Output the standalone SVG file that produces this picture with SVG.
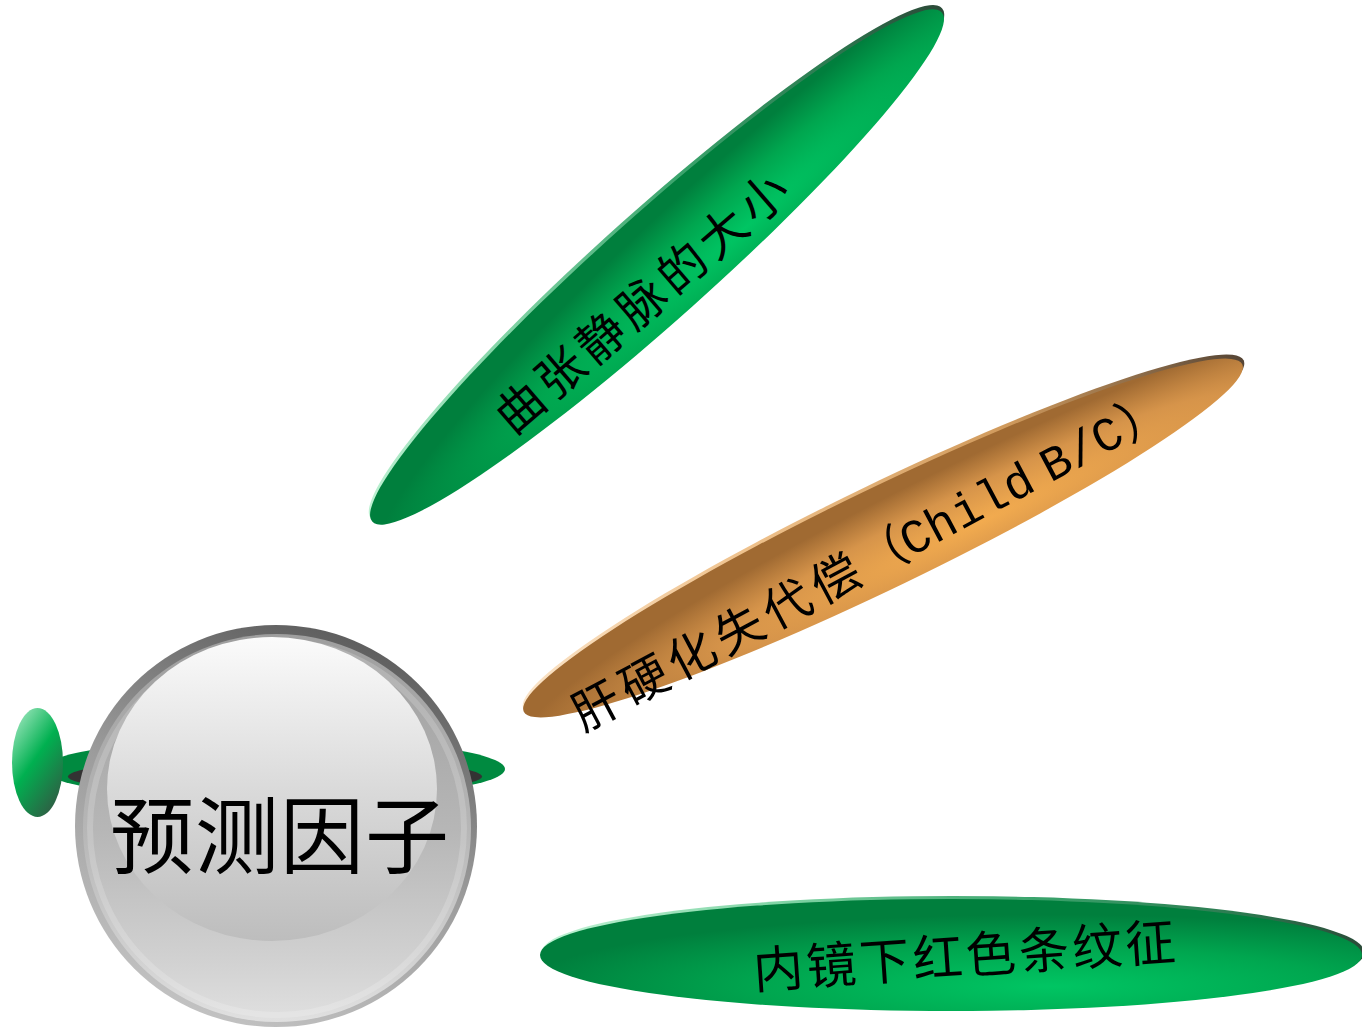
<svg xmlns="http://www.w3.org/2000/svg" width="1362" height="1032" viewBox="0 0 1362 1032">
<style>
.cjk{font-family:"Liberation Serif","Noto Sans CJK SC",serif;fill:#000;text-anchor:middle}
.lat{font-family:"Liberation Mono","Noto Sans CJK SC",monospace;fill:#000;text-anchor:middle}
</style>
<defs>
<radialGradient id="gGreen" cx="0.62" cy="0.78" r="0.64">
<stop offset="0" stop-color="#00c563"/>
<stop offset="0.55" stop-color="#00a64f"/>
<stop offset="1" stop-color="#007f3d"/>
</radialGradient>
<radialGradient id="gOrange" cx="0.62" cy="0.78" r="0.64">
<stop offset="0" stop-color="#f2ab4f"/>
<stop offset="0.55" stop-color="#d6944a"/>
<stop offset="1" stop-color="#a06a32"/>
</radialGradient>
<linearGradient id="rimGreen" x1="0" y1="0" x2="1" y2="0">
<stop offset="0" stop-color="#bff2d4"/>
<stop offset="0.3" stop-color="#7fd3a4"/>
<stop offset="0.6" stop-color="#3aa46c"/>
<stop offset="0.85" stop-color="#2c7a50"/>
<stop offset="1" stop-color="#2b4a38"/>
</linearGradient>
<linearGradient id="rimOrange" x1="0" y1="0" x2="1" y2="0">
<stop offset="0" stop-color="#fbe4c8"/>
<stop offset="0.35" stop-color="#eec08a"/>
<stop offset="0.7" stop-color="#d09a5c"/>
<stop offset="0.88" stop-color="#8a6a48"/>
<stop offset="1" stop-color="#564535"/>
</linearGradient>
<linearGradient id="ring" x1="0.7" y1="0" x2="0.3" y2="1">
<stop offset="0" stop-color="#5a5a5a"/>
<stop offset="0.5" stop-color="#9c9c9c"/>
<stop offset="1" stop-color="#c4c4c4"/>
</linearGradient>
<linearGradient id="disk" x1="0" y1="0" x2="0" y2="1">
<stop offset="0" stop-color="#9e9e9e"/>
<stop offset="0.5" stop-color="#b6b6b6"/>
<stop offset="0.85" stop-color="#d2d2d2"/>
<stop offset="1" stop-color="#e0e0e0"/>
</linearGradient>
<linearGradient id="hilite" x1="0" y1="0" x2="0" y2="1">
<stop offset="0" stop-color="#fbfbfb"/>
<stop offset="0.5" stop-color="#dadada"/>
<stop offset="1" stop-color="#bdbdbd"/>
</linearGradient>
<linearGradient id="knob" x1="0.2" y1="0.05" x2="0.8" y2="0.95">
<stop offset="0" stop-color="#8ae0b0"/>
<stop offset="0.45" stop-color="#00b050"/>
<stop offset="1" stop-color="#2f5e44"/>
</linearGradient>
</defs>

<g id="connectors"></g>

<g id="node-center">
<ellipse cx="274" cy="769" rx="231" ry="31" fill="#008a40"/>
<ellipse cx="275" cy="776.5" rx="207" ry="18.5" fill="#333333"/>
<ellipse cx="37.5" cy="762.5" rx="25.5" ry="54.5" fill="url(#knob)"/>
<circle cx="276" cy="826" r="201" fill="url(#ring)"/>
<circle cx="277" cy="828" r="194" fill="url(#disk)"/>
<circle cx="277" cy="828" r="187" fill="none" stroke="#ffffff" stroke-opacity="0.18" stroke-width="6"/>
<ellipse cx="272" cy="789" rx="165" ry="152" fill="url(#hilite)"/>
<text class="cjk" x="280" y="867" font-size="84" letter-spacing="1">预测因子</text>
</g>

<g id="node-varices">
<g transform="translate(657,267) rotate(-41.8)">
<ellipse cx="2" cy="-3" rx="383" ry="53.5" fill="url(#rimGreen)"/>
<ellipse cx="0" cy="0" rx="382" ry="53" fill="url(#gGreen)"/>
</g>
<text class="cjk" font-size="48" transform="translate(520,407) rotate(-40.8)" x="0 53.5 107 160.5 214 267.5 321" y="18">曲张静脉的大小</text>
</g>

<g id="node-child">
<g transform="translate(883,538) rotate(-25.8)">
<ellipse cx="2" cy="-3" rx="400" ry="50.5" fill="url(#rimOrange)"/>
<ellipse cx="0" cy="0" rx="399" ry="50" fill="url(#gOrange)"/>
</g>
<g transform="translate(596,705) rotate(-28)">
<text class="cjk" font-size="48" x="0 54 108 162 216 271 324" y="18">肝硬化失代偿（</text>
<text class="lat" font-size="48" x="361 390 419 448 477 498 520 549 578" y="17">Child B/C</text>
<text class="cjk" font-size="48" x="618" y="18">）</text>
</g>
</g>

<g id="node-redwale">
<ellipse cx="953" cy="952.5" rx="411.5" ry="56.5" fill="url(#rimGreen)"/>
<ellipse cx="951" cy="955" rx="411" ry="56" fill="url(#gGreen)"/>
<text class="cjk" font-size="50" transform="translate(778,968) rotate(-4)" x="0 53.3 106.6 159.9 213.2 266.5 319.8 373" y="19">内镜下红色条纹征</text>
</g>
</svg>
